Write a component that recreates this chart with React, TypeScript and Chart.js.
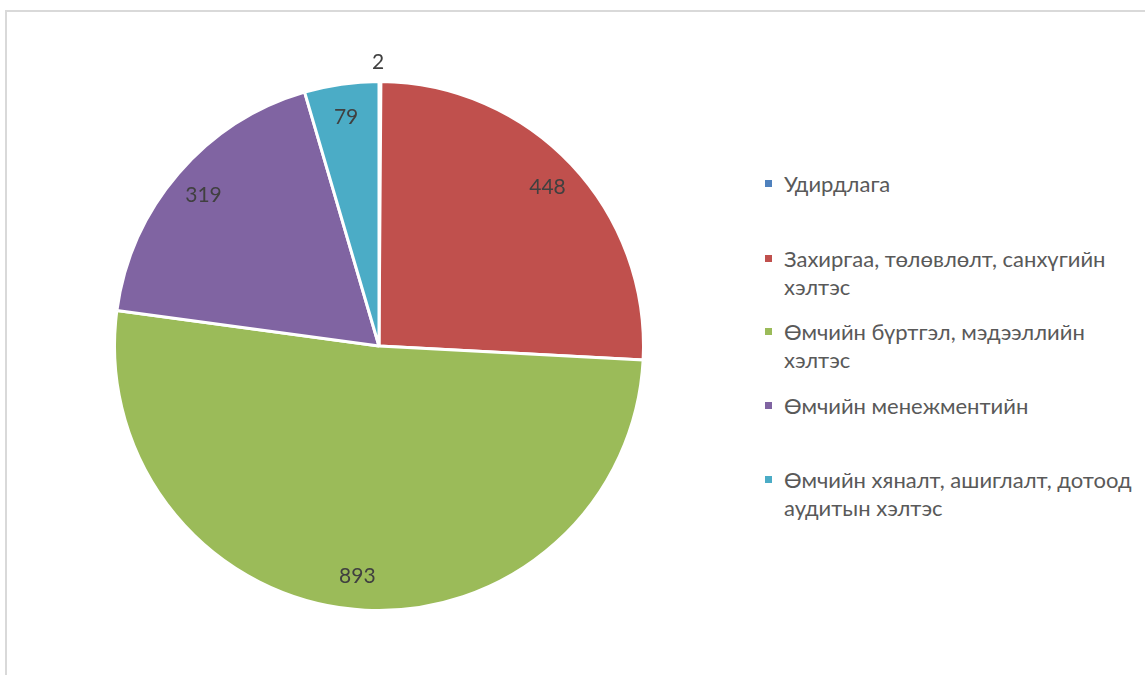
import React, { useEffect, useRef } from "react";
import { Chart, registerables } from "chart.js";

Chart.register(...registerables);

const categories: string[][] = [
  ["Удирдлага"],
  ["Захиргаа, төлөвлөлт, санхүгийн", "хэлтэс"],
  ["Өмчийн бүртгэл, мэдээллийн", "хэлтэс"],
  ["Өмчийн менежментийн"],
  ["Өмчийн хяналт, ашиглалт, дотоод", "аудитын хэлтэс"],
];
const values: number[] = [2, 448, 893, 319, 79];
const colors: string[] = ["#4F81BD", "#C0504D", "#9BBB59", "#8064A2", "#4BACC6"];
const legendTops: number[] = [170, 245, 318, 392, 466];

const FONT = "Lato, 'Open Sans', 'DejaVu Sans', sans-serif";

const labelPlugin = {
  id: "pieLabels",
  afterDatasetsDraw(chart: any) {
    const ctx = chart.ctx;
    const meta = chart.getDatasetMeta(0);
    const total = values.reduce((a, b) => a + b, 0);
    ctx.save();
    ctx.font = `21px ${FONT}`;
    ctx.fillStyle = "#404040";
    ctx.textAlign = "center";
    ctx.textBaseline = "middle";
    meta.data.forEach((arc: any, i: number) => {
      const { x, y, startAngle, endAngle, outerRadius } = arc.getProps(
        ["x", "y", "startAngle", "endAngle", "outerRadius"],
        true
      );
      const mid = (startAngle + endAngle) / 2;
      const small = values[i] / total < 0.01;
      const r = small ? outerRadius + 19 : outerRadius * 0.875;
      ctx.fillText(String(values[i]), x + Math.cos(mid) * r - (small ? 2 : 0), y + Math.sin(mid) * r);
    });
    ctx.restore();
  },
};

export default function App() {
  const canvasRef = useRef<HTMLCanvasElement | null>(null);

  useEffect(() => {
    if (!canvasRef.current) return;
    const chart = new Chart(canvasRef.current, {
      type: "pie",
      data: {
        labels: categories.map((c) => c.join(" ")),
        datasets: [
          {
            data: values,
            backgroundColor: colors,
            borderColor: "#FFFFFF",
            borderWidth: 3,
          },
        ],
      },
      options: {
        animation: false,
        responsive: true,
        maintainAspectRatio: false,
        layout: { padding: { left: 113, right: 115, top: 80, bottom: 63 } },
        plugins: {
          legend: { display: false },
          tooltip: { enabled: false },
        },
      },
      plugins: [labelPlugin],
    });
    return () => chart.destroy();
  }, []);

  return (
    <div
      style={{
        position: "absolute",
        left: 0,
        top: 0,
        width: 1145,
        height: 675,
        overflow: "hidden",
        background: "#fff",
        fontFamily: FONT,
      }}
    >
      <div
        style={{
          position: "absolute",
          left: 5,
          top: 10,
          width: 1200,
          height: 700,
          borderTop: "2px solid #D9D9D9",
          borderLeft: "2px solid #D9D9D9",
        }}
      />
      <div style={{ position: "absolute", left: 0, top: 0, width: 760, height: 675 }}>
        <canvas ref={canvasRef} />
      </div>
      {categories.map((lines, i) => (
        <div
          key={i}
          style={{
            position: "absolute",
            left: 765,
            top: legendTops[i],
            color: "#595959",
            fontSize: 22,
            lineHeight: "28px",
            whiteSpace: "nowrap",
          }}
        >
          <span
            style={{
              position: "absolute",
              left: 0,
              top: 10,
              width: 7,
              height: 7,
              background: colors[i],
            }}
          />
          <div style={{ marginLeft: 19 }}>
            {lines.map((l, j) => (
              <div key={j}>{l}</div>
            ))}
          </div>
        </div>
      ))}
    </div>
  );
}
